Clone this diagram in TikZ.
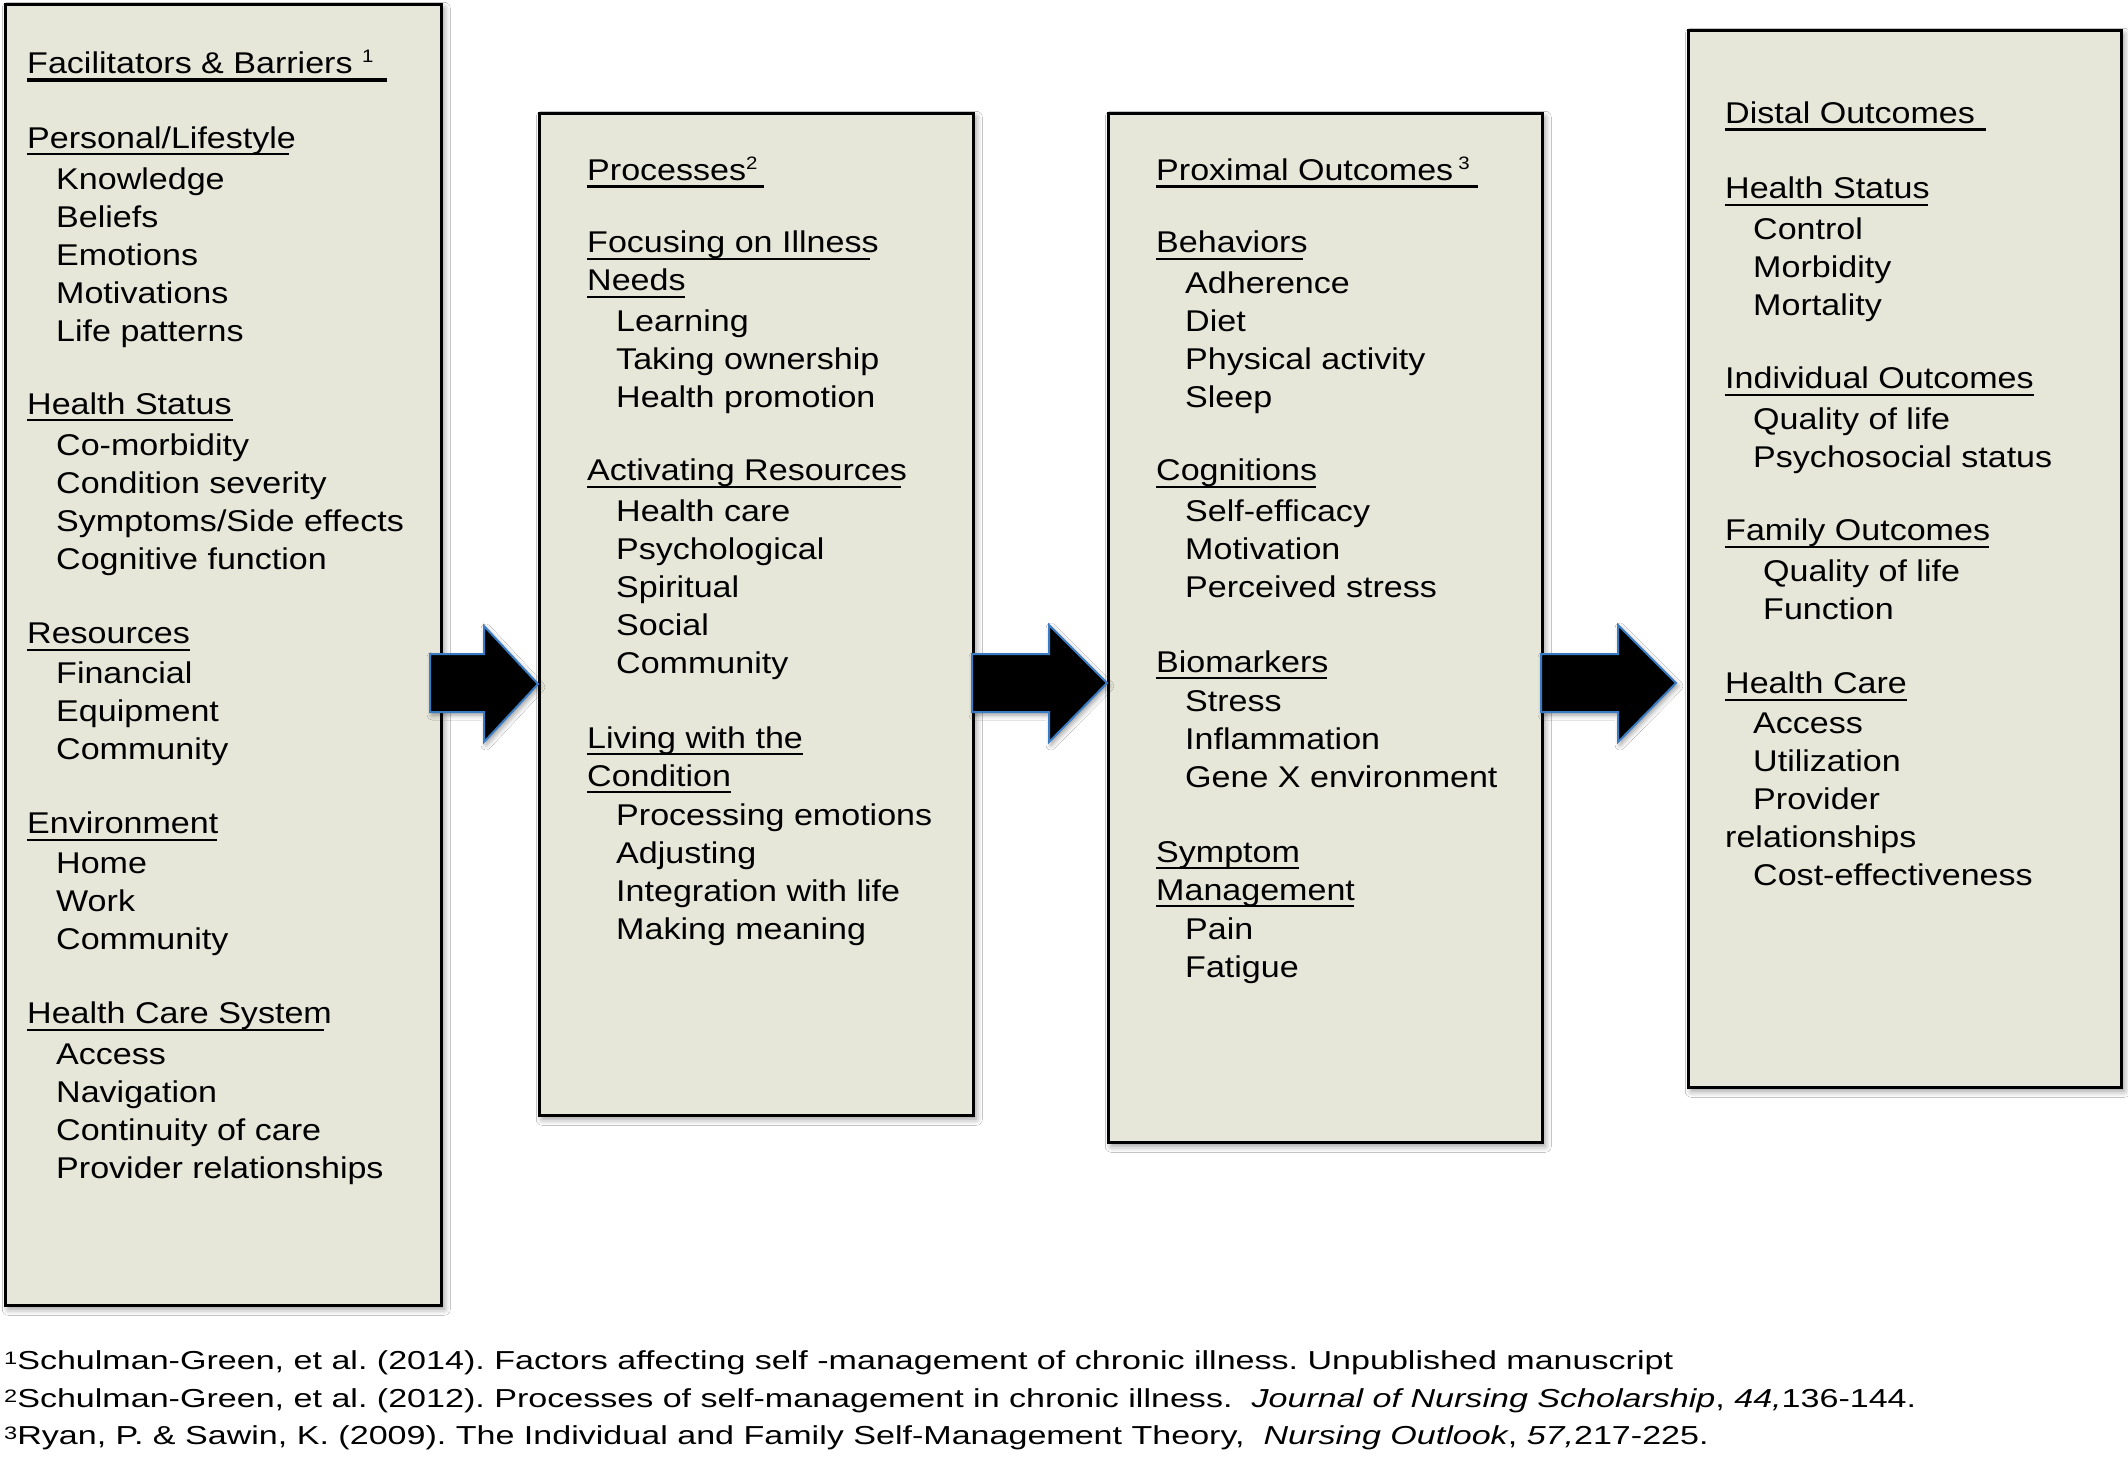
\documentclass[tikz,border=0pt]{standalone}
\usepackage{fontspec}
\setmainfont{Liberation Sans}[FakeStretch=1.135]
\newfontfamily\fnfont{Liberation Sans}[FakeStretch=1.31]
\usetikzlibrary{shadows.blur,calc}
\definecolor{boxfill}{RGB}{230,230,217}
\definecolor{arrowblue}{RGB}{58,124,196}
\newcommand\mainsz{\fontsize{30}{36}\selectfont}
\newcommand\supsz{\fontsize{18}{18}\selectfont}
\newcommand\fnsz{\fnfont\fontsize{26}{30}\selectfont}
\newcommand\hsup[1]{\raisebox{11pt}{\supsz #1}}
\newcommand\fsup[1]{\raisebox{5pt}{\fontsize{18}{18}\selectfont #1}}
\frenchspacing
\tikzset{
 box/.style={draw=black, line width=2.5pt, fill=boxfill, anchor=north west, inner sep=0pt,
   blur shadow={shadow xshift=3pt, shadow yshift=-4pt, shadow blur radius=6pt}},
 txt/.style={anchor=base west, inner sep=0pt, font=\mainsz},
 fn/.style={anchor=base west, inner sep=0pt, font=\fnsz},
 ulthin/.style={line width=2pt},
 ulthick/.style={line width=3.5pt},
 bigarrow/.style={fill=black, draw=arrowblue, line width=2pt, line join=miter,
   blur shadow={shadow xshift=2pt, shadow yshift=-3pt, shadow blur radius=5pt}}
}
\newcommand\itm[4]{\node[txt] (#1) at (#2,#3) {#4};}
\newcommand\hd[5]{\node[txt] (#1) at (#2,#3) {#4}; \draw[ulthin] (#1.base west) ++(0,6) -- (#5,{#3+6});}
\newcommand\hdk[5]{\node[txt] (#1) at (#2,#3) {#4}; \draw[ulthick] (#1.base west) ++(0,6.5) -- (#5,{#3+6.5});}
\begin{document}
\begin{tikzpicture}[x=1pt,y=-1pt]
\useasboundingbox[fill=white] (0,0) rectangle (2128,1459);
% boxes
\node[box, minimum width=436pt, minimum height=1301pt] (b1) at (4,3) {};
\node[box, minimum width=434pt, minimum height=1002pt] (b2) at (538,112) {};
\node[box, minimum width=434pt, minimum height=1029pt] (b3) at (1107,112) {};
\node[box, minimum width=433pt, minimum height=1057pt] (b4) at (1687,29) {};
% arrows
\draw[bigarrow] (430,654) -- (484,654) -- (484,626) -- (538,684) -- (484,742) -- (484,712) -- (430,712) -- cycle;
\draw[bigarrow] (972,654) -- (1049,654) -- (1049,625) -- (1107,683) -- (1049,742) -- (1049,712) -- (972,712) -- cycle;
\draw[bigarrow] (1541,654) -- (1618,654) -- (1618,625) -- (1676,683) -- (1618,742) -- (1618,712) -- (1541,712) -- cycle;
% box 1
\hdk{a0}{27}{73.7}{Facilitators \& Barriers \hsup{1}}{387}
\hd{a1}{27}{148.3}{Personal/Lifestyle}{289}
\itm{a11}{56}{189}{Knowledge}
\itm{a12}{56}{227}{Beliefs}
\itm{a13}{56}{265}{Emotions}
\itm{a14}{56}{303}{Motivations}
\itm{a15}{56}{341}{Life patterns}
\hd{a2}{27}{414.3}{Health Status}{233}
\itm{a21}{56}{455}{Co-morbidity}
\itm{a22}{56}{493}{Condition severity}
\itm{a23}{56}{531}{Symptoms/Side effects}
\itm{a24}{56}{569}{Cognitive function}
\hd{a3}{27}{643.6}{Resources}{190}
\itm{a31}{56}{683}{Financial}
\itm{a32}{56}{721}{Equipment}
\itm{a33}{56}{759}{Community}
\hd{a4}{27}{833.6}{Environment}{217}
\itm{a41}{56}{873}{Home}
\itm{a42}{56}{911}{Work}
\itm{a43}{56}{949}{Community}
\hd{a5}{27}{1023.6}{Health Care System}{324}
\itm{a51}{56}{1064}{Access}
\itm{a52}{56}{1102}{Navigation}
\itm{a53}{56}{1140}{Continuity of care}
\itm{a54}{56}{1178}{Provider relationships}
% box 2
\hdk{p0}{587}{180}{Processes\hsup{2}}{764}
\hd{p1}{587}{252.8}{Focusing on Illness}{870}
\hd{p1b}{587}{290.8}{Needs}{685}
\itm{p11}{616}{331.5}{Learning}
\itm{p12}{616}{369.5}{Taking ownership}
\itm{p13}{616}{407.5}{Health promotion}
\hd{p2}{587}{480.8}{Activating Resources}{901}
\itm{p21}{616}{521.5}{Health care}
\itm{p22}{616}{559.5}{Psychological}
\itm{p23}{616}{597.5}{Spiritual}
\itm{p24}{616}{635.5}{Social}
\itm{p25}{616}{673.5}{Community}
\hd{p3}{587}{748}{Living with the}{803}
\hd{p3b}{587}{786}{Condition}{731}
\itm{p31}{616}{825.5}{Processing emotions}
\itm{p32}{616}{863.5}{Adjusting}
\itm{p33}{616}{901.5}{Integration with life}
\itm{p34}{616}{939.5}{Making meaning}
% box 3
\hdk{q0}{1156}{180}{Proximal Outcomes\,\hsup{3}}{1478}
\hd{q1}{1156}{252.8}{Behaviors}{1303}
\itm{q11}{1185}{293.5}{Adherence}
\itm{q12}{1185}{331.5}{Diet}
\itm{q13}{1185}{369.5}{Physical activity}
\itm{q14}{1185}{407.5}{Sleep}
\hd{q2}{1156}{480.8}{Cognitions}{1316}
\itm{q21}{1185}{521.5}{Self-efficacy}
\itm{q22}{1185}{559.5}{Motivation}
\itm{q23}{1185}{597.5}{Perceived stress}
\hd{q3}{1156}{672.2}{Biomarkers}{1327}
\itm{q31}{1185}{711.5}{Stress}
\itm{q32}{1185}{749.5}{Inflammation}
\itm{q33}{1185}{787.5}{Gene X environment}
\hd{q4}{1156}{862}{Symptom}{1299}
\hd{q4b}{1156}{900}{Management}{1354}
\itm{q41}{1185}{939.5}{Pain}
\itm{q42}{1185}{977.5}{Fatigue}
% box 4
\hdk{d0}{1725}{123}{Distal Outcomes}{1986}
\hd{d1}{1725}{198.5}{Health Status}{1928}
\itm{d11}{1753}{239.2}{Control}
\itm{d12}{1753}{277.2}{Morbidity}
\itm{d13}{1753}{315.2}{Mortality}
\hd{d2}{1725}{388.5}{Individual Outcomes}{2034}
\itm{d21}{1753}{429.2}{Quality of life}
\itm{d22}{1753}{467.2}{Psychosocial status}
\hd{d3}{1725}{540.5}{Family Outcomes}{1989}
\itm{d31}{1763}{581.2}{Quality of life}
\itm{d32}{1763}{619.2}{Function}
\hd{d4}{1725}{693.8}{Health Care}{1907}
\itm{d41}{1753}{733.2}{Access}
\itm{d42}{1753}{771.2}{Utilization}
\itm{d43}{1753}{809.2}{Provider}
\itm{d44}{1725}{847.2}{relationships}
\itm{d45}{1753}{885.2}{Cost-effectiveness}
% footnotes
\node[fn] (f1) at (4,1369) {\fsup{1}Schulman-Green, et al. (2014). Factors affecting self -management of chronic illness. Unpublished manuscript};
\node[fn] (f2) at (4,1407) {\fsup{2}Schulman-Green, et al. (2012). Processes of self-management in chronic illness.\ \ \textit{Journal of Nursing Scholarship}, \textit{44,}136-144.};
\node[fn] (f3) at (4,1444) {\fsup{3}Ryan, P. \& Sawin, K. (2009). The Individual and Family Self-Management Theory,\ \ \textit{Nursing Outlook}, \textit{57,}217-225.};
\end{tikzpicture}
\end{document}
